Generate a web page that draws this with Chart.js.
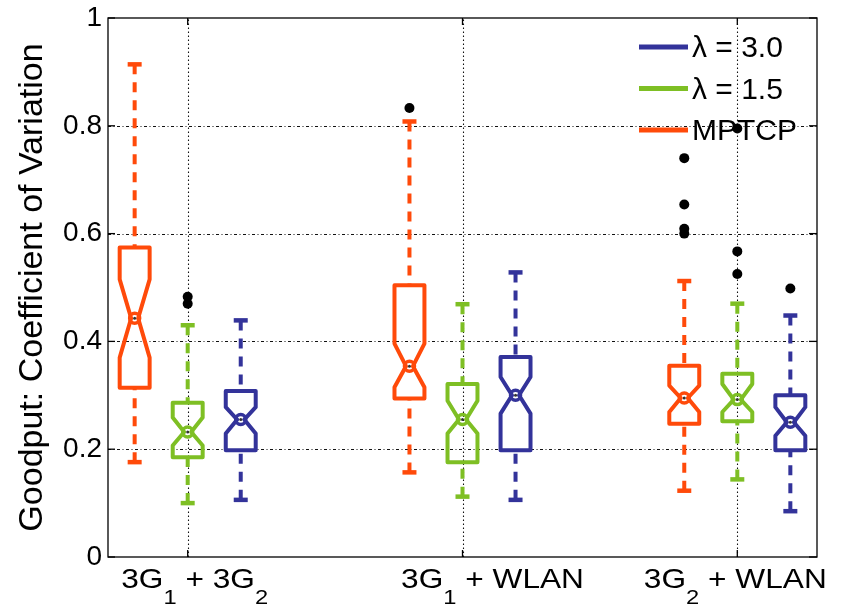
<!DOCTYPE html>
<html><head><meta charset="utf-8">
<script src="https://cdn.jsdelivr.net/npm/chart.js@4.4.0/dist/chart.umd.min.js"></script>
<style>html,body{margin:0;padding:0;background:#fff;overflow:hidden}#wrap{width:842px;height:608px;position:relative}</style>
</head><body><div id="wrap"><canvas id="c"></canvas></div>
<script>
// ---------- data ----------
const categories = ['3G_1 + 3G_2', '3G_1 + WLAN', '3G_2 + WLAN'];
const categoryPositions = [1, 2, 3];
const yTickValues = [0, 0.2, 0.4, 0.6, 0.8, 1];

// MPTCP (orange)
const mptcpWhiskerHigh = [0.914, 0.808, 0.512];
const mptcpQ3          = [0.574, 0.504, 0.355];
const mptcpNotchHigh   = [0.515, 0.396, 0.318];
const mptcpMedian      = [0.443, 0.354, 0.295];
const mptcpNotchLow    = [0.370, 0.315, 0.269];
const mptcpQ1          = [0.314, 0.294, 0.247];
const mptcpWhiskerLow  = [0.176, 0.157, 0.123];
const mptcpOutliers    = [[], [0.833], [0.740, 0.654, 0.609, 0.600]];

// lambda = 1.5 (green)
const l15WhiskerHigh = [0.430, 0.469, 0.470];
const l15Q3          = [0.286, 0.321, 0.340];
const l15NotchHigh   = [0.259, 0.290, 0.321];
const l15Median      = [0.232, 0.255, 0.292];
const l15NotchLow    = [0.207, 0.229, 0.269];
const l15Q1          = [0.185, 0.176, 0.252];
const l15WhiskerLow  = [0.100, 0.112, 0.144];
const l15Outliers    = [[0.483, 0.470], [], [0.795, 0.567, 0.525]];

// lambda = 3.0 (blue)
const l30WhiskerHigh = [0.439, 0.528, 0.448];
const l30Q3          = [0.308, 0.371, 0.300];
const l30NotchHigh   = [0.278, 0.334, 0.278];
const l30Median      = [0.255, 0.300, 0.250];
const l30NotchLow    = [0.229, 0.266, 0.225];
const l30Q1          = [0.198, 0.198, 0.198];
const l30WhiskerLow  = [0.106, 0.106, 0.085];
const l30Outliers    = [[], [], [0.498]];

// ---------- styles ----------
const series = [
  {name: 'MPTCP',   color: '#ff4a0a', offset: -0.193, wh: mptcpWhiskerHigh, q3: mptcpQ3, nh: mptcpNotchHigh, md: mptcpMedian, nl: mptcpNotchLow, q1: mptcpQ1, wl: mptcpWhiskerLow, out: mptcpOutliers},
  {name: 'λ = 1.5', color: '#7ebf24', offset: 0,      wh: l15WhiskerHigh, q3: l15Q3, nh: l15NotchHigh, md: l15Median, nl: l15NotchLow, q1: l15Q1, wl: l15WhiskerLow, out: l15Outliers},
  {name: 'λ = 3.0', color: '#33339a', offset: 0.193,  wh: l30WhiskerHigh, q3: l30Q3, nh: l30NotchHigh, md: l30Median, nl: l30NotchLow, q1: l30Q1, wl: l30WhiskerLow, out: l30Outliers}
];
const legendOrder = [2, 1, 0];
const boxHalfWidth = 0.0545;   // in x units
const labelShift = [7, 30, -2]; // px
const FONT = '"Liberation Sans", Arial, Helvetica, sans-serif';

// outlier points (built from arrays)
const outlierPoints = [];
series.forEach(s => s.out.forEach((list, i) => list.forEach(v => outlierPoints.push({x: categoryPositions[i] + s.offset, y: v}))));

function line(ctx, x1, y1, x2, y2) { ctx.beginPath(); ctx.moveTo(x1, y1); ctx.lineTo(x2, y2); ctx.stroke(); }

const boxPlugin = {
  id: 'boxes',
  beforeDatasetsDraw(chart) {
    const {ctx, chartArea: a, scales: {x, y}} = chart;
    ctx.save();
    // grid
    ctx.strokeStyle = '#111'; ctx.lineWidth = 1.1;
    ctx.setLineDash([3, 2.5, 1, 2.5]);
    yTickValues.forEach(v => { if (v > 0 && v < 1) { const py = Math.round(y.getPixelForValue(v)) + 0.5; line(ctx, a.left, py, a.right, py); } });
    ctx.setLineDash([1.5, 2.5]);
    categoryPositions.forEach(c => { const px = Math.round(x.getPixelForValue(c)) + 0.5; line(ctx, px, a.bottom, px, a.top); });
    ctx.setLineDash([]);
    // legend
    legendOrder.forEach((si, k) => {
      const s = series[si];
      const ly = a.top + 29 + k * 41.5;
      ctx.strokeStyle = s.color; ctx.lineWidth = 5; ctx.lineCap = 'butt';
      line(ctx, a.right - 178, ly, a.right - 129, ly);
      ctx.fillStyle = '#000'; ctx.font = '30px ' + FONT; ctx.textBaseline = 'middle'; ctx.textAlign = 'left';
      ctx.fillText(s.name, a.right - 125, ly + 2);
    });
    // boxes
    series.forEach(s => {
      categoryPositions.forEach((c, i) => {
        const pos = c + s.offset;
        const cx = x.getPixelForValue(pos);
        const hw = x.getPixelForValue(pos + boxHalfWidth) - cx;
        const pWH = y.getPixelForValue(s.wh[i]), pQ3 = y.getPixelForValue(s.q3[i]), pNH = y.getPixelForValue(s.nh[i]);
        const pM = y.getPixelForValue(s.md[i]), pNL = y.getPixelForValue(s.nl[i]), pQ1 = y.getPixelForValue(s.q1[i]);
        const pWL = y.getPixelForValue(s.wl[i]);
        ctx.strokeStyle = s.color; ctx.lineCap = 'butt';
        ctx.lineWidth = 4; ctx.setLineDash([10, 8]);
        line(ctx, cx, pWH, cx, pQ3);
        line(ctx, cx, pWL, cx, pQ1);
        ctx.setLineDash([]);
        ctx.lineWidth = 4.5;
        line(ctx, cx - 7, pWH, cx + 7, pWH);
        line(ctx, cx - 7, pWL, cx + 7, pWL);
        ctx.lineWidth = 4; ctx.lineJoin = 'round';
        const pinch = 3.5;
        ctx.beginPath();
        ctx.moveTo(cx - hw, pQ3); ctx.lineTo(cx - hw, pNH); ctx.lineTo(cx - pinch, pM); ctx.lineTo(cx - hw, pNL);
        ctx.lineTo(cx - hw, pQ1); ctx.lineTo(cx + hw, pQ1); ctx.lineTo(cx + hw, pNL); ctx.lineTo(cx + pinch, pM);
        ctx.lineTo(cx + hw, pNH); ctx.lineTo(cx + hw, pQ3); ctx.closePath(); ctx.stroke();
        ctx.lineWidth = 3.5;
        ctx.beginPath(); ctx.arc(cx, pM, 5, 0, Math.PI * 2); ctx.stroke();
        ctx.fillStyle = '#333';
        ctx.beginPath(); ctx.arc(cx, pM, 1.5, 0, Math.PI * 2); ctx.fill();
      });
    });
    ctx.restore();
  },
  afterDraw(chart) {
    const {ctx, chartArea: a, scales: {x, y}} = chart;
    ctx.save();
    ctx.strokeStyle = '#000'; ctx.lineWidth = 1.3;
    ctx.strokeRect(a.left, a.top, a.right - a.left, a.bottom - a.top);
    yTickValues.forEach(v => {
      const py = y.getPixelForValue(v);
      line(ctx, a.left, py, a.left + 7, py);
      line(ctx, a.right, py, a.right - 8, py);
    });
    categoryPositions.forEach(c => {
      const px = x.getPixelForValue(c);
      line(ctx, px, a.bottom, px, a.bottom - 7);
      line(ctx, px, a.top, px, a.top + 7);
    });
    // x labels with subscripts
    const sx = 1.13;
    ctx.fillStyle = '#000'; ctx.textBaseline = 'alphabetic'; ctx.textAlign = 'left';
    categories.forEach((lab, i) => {
      const parts = [];
      let buf = '';
      for (let k = 0; k < lab.length; k++) {
        if (lab[k] === '_') { if (buf) parts.push([buf, false]); buf = ''; parts.push([lab[k + 1], true]); k++; }
        else buf += lab[k];
      }
      if (buf) parts.push([buf, false]);
      let w = 0;
      parts.forEach(p => { ctx.font = (p[1] ? '21px ' : '28px ') + FONT; w += ctx.measureText(p[0]).width; });
      const cx = x.getPixelForValue(categoryPositions[i]) + labelShift[i];
      ctx.save();
      ctx.translate(cx - w * sx / 2, a.bottom + 31);
      ctx.scale(sx, 1);
      let px = 0;
      parts.forEach(p => {
        ctx.font = (p[1] ? '21px ' : '28px ') + FONT;
        ctx.fillText(p[0], px, p[1] ? 16 : 0);
        px += ctx.measureText(p[0]).width;
      });
      ctx.restore();
    });
    ctx.restore();
  }
};

new Chart(document.getElementById('c'), {
  type: 'scatter',
  data: {datasets: [{label: 'outliers', data: outlierPoints, backgroundColor: '#000', borderColor: '#000', borderWidth: 0, pointRadius: 5, pointHoverRadius: 5}]},
  options: {
    responsive: true, maintainAspectRatio: false, animation: false, events: [],
    layout: {padding: {left: 0, right: 25, top: 18, bottom: 0}},
    plugins: {legend: {display: false}, tooltip: {enabled: false}},
    scales: {
      x: {type: 'linear', min: 0.71, max: 3.29, grid: {display: false}, border: {display: false},
          ticks: {display: false}, afterFit: s => { s.height = 51; s.paddingLeft = 0; s.paddingRight = 0; }},
      y: {type: 'linear', min: 0, max: 1, grid: {display: false, drawTicks: false}, border: {display: false},
          afterBuildTicks: s => { s.ticks = yTickValues.map(v => ({value: v})); },
          ticks: {padding: 6, color: '#000', font: {family: FONT, size: 28},
                  callback: v => (v === 0 || v === 1) ? String(v) : v.toFixed(1)},
          title: {display: true, text: 'Goodput: Coefficient of Variation', color: '#000',
                  font: {family: FONT, size: 34}, padding: {top: 12, bottom: 0}},
          afterFit: s => { s.width = 108; s.paddingTop = 0; s.paddingBottom = 0; }}
    }
  },
  plugins: [boxPlugin]
});
</script></body></html>
